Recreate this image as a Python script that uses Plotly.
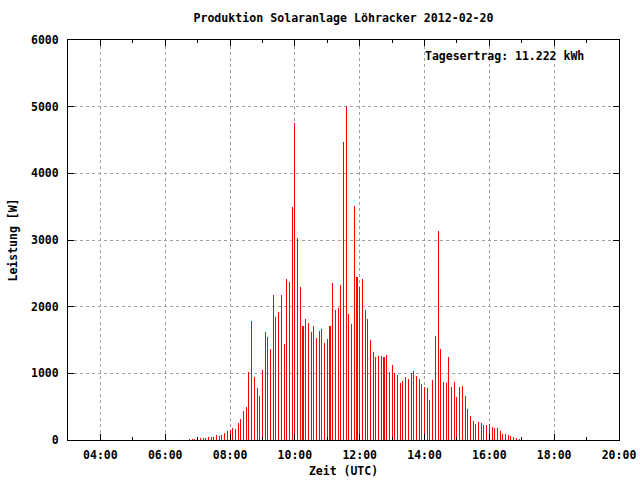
import pandas as pd
import plotly.graph_objects as go

DAY = "2012-02-20"
START_TIME = "06:45"
STEP = "5min"

leistung_w = [
    15, 15, 15, 30, 30, 30, 30, 45, 45, 45,
    75, 60, 75, 105, 135, 150, 180, 165, 255, 315,
    440, 500, 1020, 1785, 945, 780, 660, 1050, 1620, 1545,
    1365, 2175, 1845, 1920, 2175, 1440, 2415, 2370, 3495, 4755,
    3030, 2295, 1710, 1815, 1755, 1620, 1710, 1530, 1635, 1665,
    1455, 1515, 1710, 2355, 1950, 1980, 2325, 4470, 5010, 1890,
    1740, 3510, 2445, 2295, 2415, 1950, 1815, 1500, 1320, 1245,
    1260, 1260, 1245, 1275, 1020, 1125, 1010, 970, 860, 890,
    950, 920, 1010, 1035, 960, 915, 840, 795, 780, 600,
    900, 1560, 3135, 1365, 870, 855, 1245, 795, 870, 645,
    795, 810, 660, 465, 360, 285, 240, 270, 255, 225,
    225, 240, 195, 180, 180, 135, 90, 90, 75, 60,
    45, 30, 15,
]
zeit = pd.date_range(f"{DAY} {START_TIME}", periods=len(leistung_w), freq=STEP)

title_text = "Produktion Solaranlage Löhracker 2012-02-20"
ertrag_text = "Tagesertrag: 11.222 kWh"
x_title = "Zeit (UTC)"
y_title = "Leistung [W]"

FONT = "DejaVu Sans Mono"

fig = go.Figure()
fig.add_trace(go.Bar(
    x=zeit, y=leistung_w,
    width=5000,
    marker=dict(color="#ff0000", line=dict(width=0)),
    showlegend=False,
))

fig.update_layout(
    width=640, height=480,
    margin=dict(l=68, r=21, t=40, b=40),
    paper_bgcolor="white", plot_bgcolor="white",
    font=dict(family=FONT, size=11.5, color="black"),
    title=dict(text=f"<b>{title_text}</b>", x=0.5, xref="paper",
               y=1 - 18 / 480, yanchor="middle",
               font=dict(family=FONT, size=11.6, color="black")),
    bargap=0,
)

fig.update_xaxes(
    type="date", automargin=False,
    range=[f"{DAY} 03:00", f"{DAY} 20:00"],
    tick0=f"{DAY} 04:00", dtick=2 * 3600 * 1000,
    tickformat="<b>%H:%M</b>",
    ticks="inside", ticklen=6, tickcolor="black", tickwidth=1,
    minor=dict(ticks="inside", ticklen=3, dtick=3600 * 1000, tick0=f"{DAY} 03:00",
               tickcolor="black", showgrid=False),
    showline=True, linecolor="black", linewidth=1, mirror="ticks",
    showgrid=True, gridcolor="#a0a0a0", griddash="3px,3px", gridwidth=1,
    zeroline=False,
    ticklabelstandoff=4,
    title=dict(text=f"<b>{x_title}</b>", standoff=6, font=dict(family=FONT, size=11.5)),
    tickfont=dict(family=FONT, size=11.5),
)
fig.update_yaxes(
    automargin=False,
    range=[0, 6000], dtick=1000, tick0=0,
    ticks="inside", ticklen=6, tickcolor="black", tickwidth=1,
    showline=True, linecolor="black", linewidth=1, mirror="ticks",
    showgrid=True, gridcolor="#a0a0a0", griddash="3px,3px", gridwidth=1,
    zeroline=False,
    ticklabelstandoff=6,
    tickprefix="<b>", ticksuffix="</b>",
    title=dict(text=f"<b>{y_title}</b>", standoff=10, font=dict(family=FONT, size=11.5)),
    tickfont=dict(family=FONT, size=11.5),
)

fig.add_annotation(
    x=(423 - 68) / 551, y=1 - 16 / 400, xref="paper", yref="paper",
    xanchor="left", yanchor="middle", showarrow=False,
    text=f"<b>{ertrag_text}</b>",
    font=dict(family=FONT, size=11.5, color="black"),
)

fig.write_html("out.html", post_script="document.body.style.margin='0px';",
               config={"displayModeBar": False})
